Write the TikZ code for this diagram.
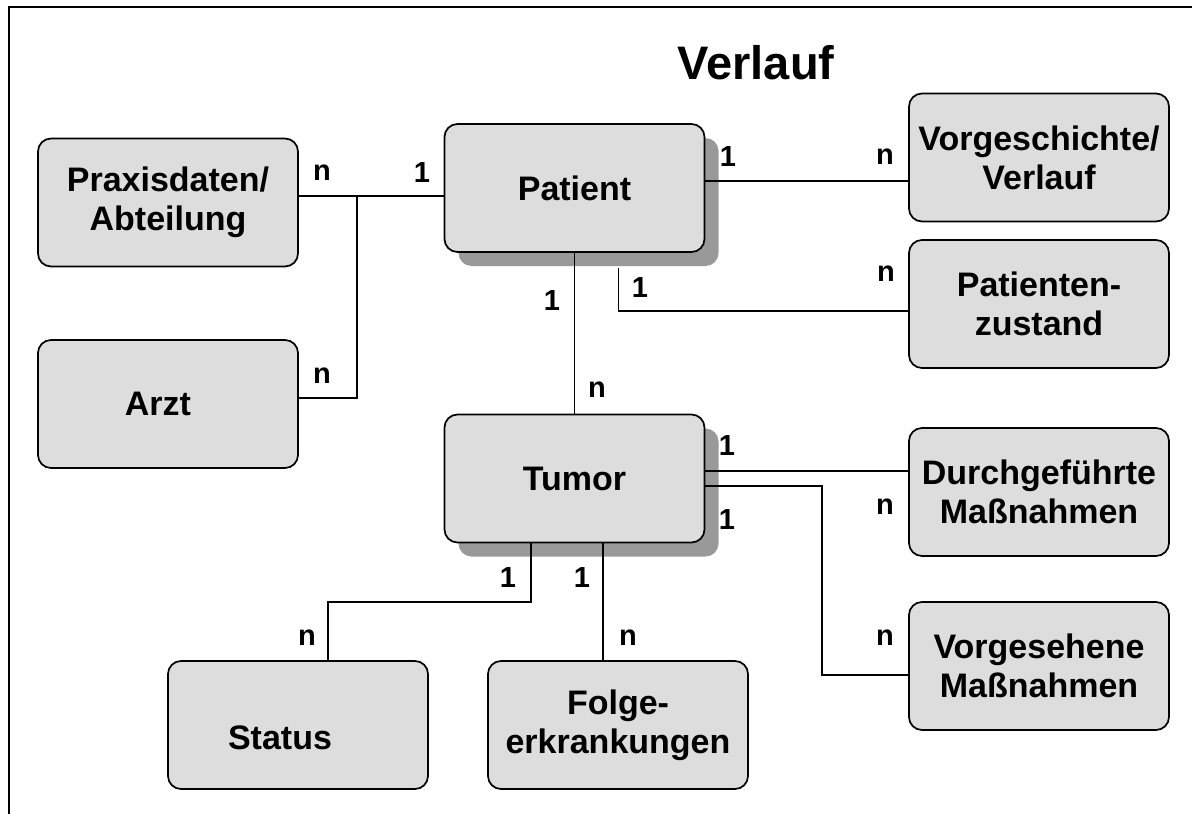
\documentclass[tikz,border=0pt]{standalone}
\usepackage{fontspec}
\setmainfont{Liberation Sans}
\usepackage{tikz}
\usetikzlibrary{positioning,shadows}

\definecolor{boxgray}{HTML}{DDDDDD}
\definecolor{shadegray}{HTML}{999999}

\begin{document}
\begin{tikzpicture}[
      x=1pt, y=-1pt,
      font=\bfseries,
      % Reusable styles
      entity/.style={
        draw=black,
        line width=1.7pt,
        fill=boxgray,
        rounded corners=13pt,
        align=center,
        inner sep=4pt,
        minimum width=260pt,
        minimum height=128pt,
        font=\fontsize{34}{39}\selectfont\bfseries
      },
      shaded/.style={
        drop shadow={shadow xshift=14pt, shadow yshift=-14pt,
          fill=shadegray, opacity=1}
      },
      card/.style={font=\fontsize{29}{32}\selectfont\bfseries, inner sep=0pt},
      link/.style={line width=1.3pt, draw=black}
    ]
    \useasboundingbox (0,0) rectangle (1192,814);
    \draw[line width=1.8pt] (1192,7) -- (9,7) -- (9,814);

    % Nodes
    \node[font=\fontsize{47}{56}\selectfont\bfseries, anchor=base] (title) at (756,79) {Verlauf};

    \node[entity] (prax) at (168,202.5) {Praxisdaten/\\Abteilung};
    \node[entity] (arzt) at (168,404) {Arzt\hspace*{20pt}};
    \node[entity, shaded] (patient) at (574.5,188) {Patient};
    \node[entity, shaded] (tumor) at (574.5,478.5) {Tumor};
    \node[entity] (vorg) at (1039,157.5) {Vorgeschichte/\\Verlauf};
    \node[entity] (pzust) at (1039,304) {Patienten-\\zustand};
    \node[entity] (durch) at (1039,492) {Durchgeführte\\Maßnahmen};
    \node[entity] (vorges) at (1039,666) {Vorgesehene\\Maßnahmen};
    \node[entity] (status) at (298,725) {\raisebox{-13pt}[\height][\depth]{Status}\hspace*{36pt}};
    \node[entity] (folge) at (618,725) {Folge-\\erkrankungen};

    % Junctions
    \coordinate (jA) at (357,196);
    \coordinate (jB) at (357,398);
    \coordinate (jD) at (822,675);
    \coordinate (jE) at (328,602);

    % Edges
    \draw[link] (prax.east |- jA) -- (jA -| patient.west);
    \draw[link] (jA) -- (jB) -- (jB -| arzt.east);
    \draw[link] ([yshift=7pt]patient.east) -- ([yshift=7pt]patient.east -| vorg.west);
    \draw[link] (patient.south) -- (tumor.north);
    \draw[link] ([xshift=44pt,yshift=-15pt]patient.south) |- ([yshift=-7pt]pzust.west);
    \draw[link] ([yshift=7.5pt]tumor.east) -- ([yshift=7.5pt]tumor.east -| durch.west);
    \draw[link] ([yshift=-7.5pt]tumor.east) -| (jD) -- (jD -| vorges.west);
    \draw[link] ([xshift=-43.5pt]tumor.south) |- (jE) -- (jE |- status.north);
    \draw[link] ([xshift=28.5pt]tumor.south) -- ([xshift=28.5pt]tumor.south |- folge.north);

    % Cardinalities
    \node[card] (cPrax) at (322,173) {n};
    \node[card] (cPatL) at (422,173) {1};
    \node[card] (cArzt) at (322,376) {n};
    \node[card] (cPatR) at (728,157) {1};
    \node[card] (cVorg) at (885,157) {n};
    \node[card] (cPatB) at (552,301) {1};
    \node[card] (cTumT) at (597,390) {n};
    \node[card] (cPatZ) at (640,288) {1};
    \node[card] (cZust) at (886,274) {n};
    \node[card] (cTumR1) at (727,446) {1};
    \node[card] (cTumR2) at (727,520) {1};
    \node[card] (cDurch) at (885,507) {n};
    \node[card] (cVorges) at (885,638) {n};
    \node[card] (cTumB1) at (508,578) {1};
    \node[card] (cTumB2) at (582,578) {1};
    \node[card] (cStatus) at (307,638) {n};
    \node[card] (cFolge) at (628,638) {n};
  \end{tikzpicture}
\end{document}
